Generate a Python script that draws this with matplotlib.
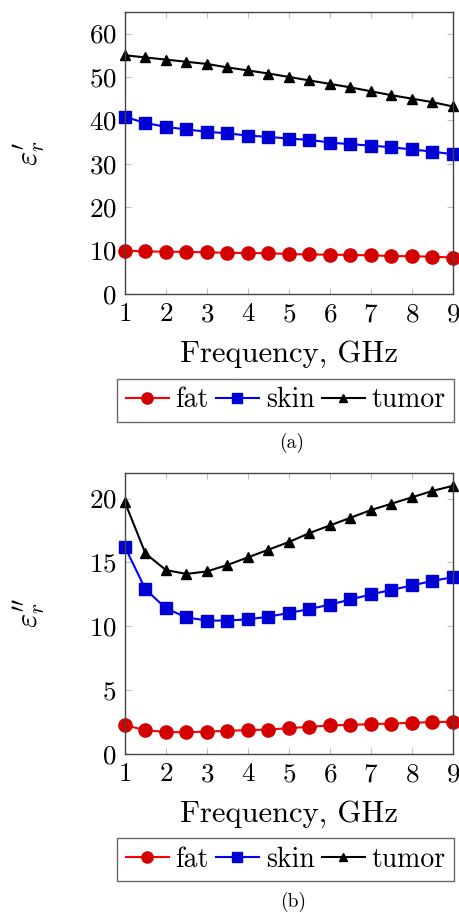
import matplotlib
matplotlib.use("Agg")
import matplotlib.pyplot as plt

plt.rcParams['font.family'] = 'serif'
plt.rcParams['font.serif'] = ['cmr10', 'DejaVu Serif']
plt.rcParams['mathtext.fontset'] = 'cm'
plt.rcParams['axes.formatter.use_mathtext'] = True

freq = [1, 1.5, 2, 2.5, 3, 3.5, 4, 4.5, 5, 5.5, 6, 6.5, 7, 7.5, 8, 8.5, 9]

# real part of the permittivity
fat_re = [10.0, 9.8, 9.75, 9.7, 9.6, 9.5, 9.45, 9.4, 9.2, 9.1, 9.05, 9.0, 8.9, 8.75, 8.7, 8.6, 8.4]
skin_re = [40.8, 39.4, 38.5, 37.9, 37.4, 37.0, 36.5, 36.2, 35.8, 35.5, 34.9, 34.5, 34.2, 33.8, 33.3, 32.8, 32.2]
tumor_re = [55.0, 54.5, 54.0, 53.5, 53.0, 52.2, 51.5, 50.8, 50.0, 49.2, 48.4, 47.6, 46.7, 45.8, 45.0, 44.2, 43.2]

# imaginary part of the permittivity
fat_im = [2.26, 1.87, 1.72, 1.71, 1.76, 1.82, 1.87, 1.92, 2.03, 2.13, 2.24, 2.29, 2.34, 2.39, 2.45, 2.5, 2.53]
skin_im = [16.2, 12.9, 11.4, 10.7, 10.45, 10.45, 10.55, 10.75, 11.05, 11.35, 11.7, 12.1, 12.5, 12.85, 13.2, 13.55, 13.85]
tumor_im = [19.7, 15.7, 14.4, 14.1, 14.3, 14.8, 15.4, 16.0, 16.6, 17.3, 17.9, 18.5, 19.1, 19.6, 20.1, 20.6, 21.0]

labels = ['fat', 'skin', 'tumor']
tick_fs = 19.5
label_fs = 22
leg_fs = 20

fig = plt.figure(figsize=(4.6, 9.13), dpi=100)
ax1 = fig.add_axes([0.2717, 0.678, 0.713, 0.309])
ax2 = fig.add_axes([0.2717, 0.1741, 0.713, 0.3078])


def draw(ax, fat, skin, tumor, ymax, yticks, ylab):
    ax.plot(freq, fat, '-o', color='#ff0000', mfc='#d40000', mec='#d40000', ms=9.5, lw=1.5, label=labels[0])
    ax.plot(freq, skin, '-s', color='#0000ff', mfc='#0000d4', mec='#0000d4', ms=8.5, lw=1.5, label=labels[1])
    ax.plot(freq, tumor, '-^', color='black', ms=7.5, lw=1.5, label=labels[2])
    ax.set_xlim(1, 9)
    ax.set_ylim(0, ymax)
    ax.set_xticks(range(1, 10))
    ax.set_yticks(yticks)
    ax.tick_params(direction='in', length=4, width=0.8, color='#c0c0c0',
                   top=True, right=True, labelsize=tick_fs, pad=6)
    for s in ax.spines.values():
        s.set_color('#444444')
        s.set_linewidth(1.0)
    ax.set_xlabel('Frequency, GHz', fontsize=label_fs, labelpad=10)
    ax.set_ylabel(ylab, fontsize=label_fs)
    ax.yaxis.set_label_coords(-0.235, 0.5)
    leg = ax.legend(loc='upper center', bbox_to_anchor=(0.49, -0.3), borderaxespad=0,
                    ncol=3, fontsize=leg_fs, frameon=True, fancybox=False, edgecolor='#444444',
                    handlelength=1.55, handletextpad=0.25, columnspacing=0.25, borderpad=0.3,
                    markerscale=0.85)
    leg.get_frame().set_linewidth(1.0)
    for line in ax.lines:
        line.set_clip_on(False)


draw(ax1, fat_re, skin_re, tumor_re, 65, range(0, 61, 10), r"$\varepsilon_r^{\prime}$")
draw(ax2, fat_im, skin_im, tumor_im, 22, range(0, 21, 5), r"$\varepsilon_r^{\prime\prime}$")

fig.text(0.635, 1 - 443 / 913, '(a)', ha='center', va='center', fontsize=14)
fig.text(0.637, 1 - 902 / 913, '(b)', ha='center', va='center', fontsize=14)

fig.savefig('out.png', dpi=100)
